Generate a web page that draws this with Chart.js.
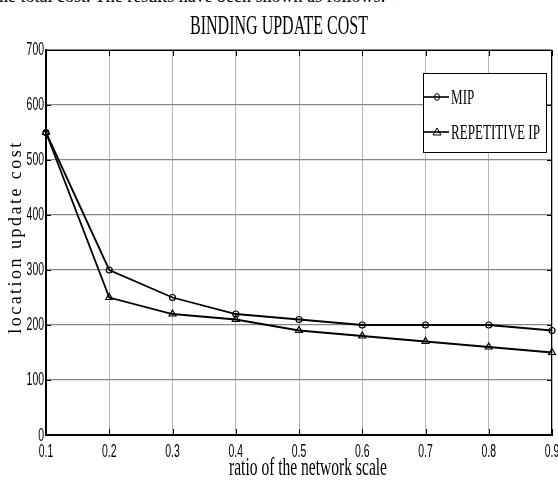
<!DOCTYPE html>
<html>
<head>
<meta charset="utf-8">
<script src="https://cdn.jsdelivr.net/npm/chart.js@4/dist/chart.umd.min.js"></script>
<style>
  html, body { margin: 0; padding: 0; background: #fff; overflow: hidden; }
  #wrap { position: relative; width: 558px; height: 480px; }
  #cutText {
    position: absolute; left: -6px; top: -14px; white-space: nowrap;
    font: 18px "Liberation Serif", serif; color: #000;
  }
  canvas { position: absolute; left: 0; top: 0; }
</style>
</head>
<body>
<div id="wrap">
  <div id="cutText">the total cost. The results have been shown as follows:</div>
  <canvas id="chart" width="558" height="480"></canvas>
</div>
<script>
const chartTitle = "BINDING UPDATE COST";
const xTitle = "ratio of the network scale";
const yTitle = "location update cost";
const xLabels = ["0.1", "0.2", "0.3", "0.4", "0.5", "0.6", "0.7", "0.8", "0.9"];
const mipCost = [550, 300, 250, 220, 210, 200, 200, 200, 190];
const repIpCost = [550, 250, 220, 210, 190, 180, 170, 160, 150];
const seriesNames = ["MIP", "REPETITIVE IP"];
const yMin = 0;
const yMax = 700;
const yStep = 100;

function drawSqueezed(ctx, text, x, y, font, scaleX, align) {
  ctx.save();
  ctx.font = font;
  ctx.translate(x, y);
  ctx.scale(scaleX, 1);
  ctx.textAlign = align;
  ctx.fillText(text, 0, 0);
  ctx.restore();
}

function fitScale(ctx, text, font, width) {
  ctx.font = font;
  return width / ctx.measureText(text).width;
}

function drawMarker(ctx, style, x, y) {
  ctx.beginPath();
  if (style === "circle") {
    ctx.ellipse(x, y, 2.6, 3.4, 0, 0, Math.PI * 2);
  } else {
    ctx.moveTo(x, y - 4);
    ctx.lineTo(x + 4, y + 3);
    ctx.lineTo(x - 4, y + 3);
    ctx.closePath();
  }
  ctx.stroke();
}

const decorPlugin = {
  id: "decor",
  beforeDatasetsDraw(chart) {
    const { ctx, chartArea: a, scales } = chart;
    ctx.save();
    ctx.strokeStyle = "#000";
    ctx.lineWidth = 1;
    ctx.beginPath();
    ctx.moveTo(a.left, a.top + 0.5);
    ctx.lineTo(a.right, a.top + 0.5);
    ctx.moveTo(a.right - 0.5, a.top);
    ctx.lineTo(a.right - 0.5, a.bottom);
    ctx.stroke();
    // inner tick marks
    ctx.beginPath();
    scales.y.ticks.forEach(t => {
      const py = Math.round(scales.y.getPixelForValue(t.value)) + 0.5;
      ctx.moveTo(a.left, py); ctx.lineTo(a.left + 5, py);
      ctx.moveTo(a.right, py); ctx.lineTo(a.right - 5, py);
    });
    xLabels.forEach((l, i) => {
      const px = Math.round(scales.x.getPixelForValue(i)) + 0.5;
      ctx.moveTo(px, a.bottom); ctx.lineTo(px, a.bottom - 6);
      ctx.moveTo(px, a.top); ctx.lineTo(px, a.top + 6);
    });
    ctx.stroke();
    ctx.restore();
  },
  afterDraw(chart) {
    const { ctx, chartArea: a, scales } = chart;
    ctx.save();
    ctx.fillStyle = "#000";
    ctx.textBaseline = "middle";
    const tickFont = '18px "Liberation Sans", Arial, sans-serif';
    scales.y.ticks.forEach(t => {
      const py = scales.y.getPixelForValue(t.value);
      drawSqueezed(ctx, String(t.value), a.left - 2, py + (t.value === 0 ? 1 : 0), tickFont, 0.58, "right");
    });
    xLabels.forEach((l, i) => {
      const px = scales.x.getPixelForValue(i);
      drawSqueezed(ctx, l, px, a.bottom + 17, tickFont, 0.58, "center");
    });

    ctx.textBaseline = "alphabetic";
    const titleFont = '28px "Liberation Serif", "Times New Roman", serif';
    drawSqueezed(ctx, chartTitle, 279, 34, titleFont, fitScale(ctx, chartTitle, titleFont, 178), "center");
    const xFont = '25px "Liberation Serif", "Times New Roman", serif';
    drawSqueezed(ctx, xTitle, 308, 475, xFont, fitScale(ctx, xTitle, xFont, 158), "center");

    // y title, letter-spaced
    const yFont = '18px "Liberation Serif", "Times New Roman", serif';
    ctx.save();
    ctx.font = yFont;
    const plain = ctx.measureText(yTitle).width;
    ctx.letterSpacing = ((191 - plain) / (yTitle.length - 1)).toFixed(2) + "px";
    ctx.translate(21, 237);
    ctx.rotate(-Math.PI / 2);
    ctx.textAlign = "center";
    ctx.fillText(yTitle, 0, 0);
    ctx.restore();

    // legend box
    const lx = 423, ly = 73, lw = 123, lh = 79;
    ctx.fillStyle = "#fff";
    ctx.fillRect(lx, ly, lw, lh);
    ctx.strokeStyle = "#000";
    ctx.lineWidth = 1;
    ctx.strokeRect(lx + 0.5, ly + 0.5, lw, lh);
    const legFont = '22px "Liberation Serif", "Times New Roman", serif';
    const legScale = fitScale(ctx, seriesNames[1], legFont, 89);
    chart.data.datasets.forEach((ds, i) => {
      const rowY = i === 0 ? 97 : 132;
      ctx.strokeStyle = "#000";
      ctx.lineWidth = 1.6;
      ctx.beginPath();
      ctx.moveTo(lx + 1, rowY); ctx.lineTo(lx + 26, rowY);
      ctx.stroke();
      ctx.lineWidth = 1;
      drawMarker(ctx, ds.pointStyle, lx + 14, rowY);
      ctx.fillStyle = "#000";
      ctx.textBaseline = "middle";
      drawSqueezed(ctx, ds.label, lx + 28, rowY + 1, legFont, legScale, "left");
    });
    ctx.restore();
  }
};

new Chart(document.getElementById("chart"), {
  type: "line",
  data: {
    labels: xLabels,
    datasets: [
      {
        label: seriesNames[0],
        data: mipCost,
        borderColor: "#000",
        borderWidth: 1.8,
        pointStyle: "circle",
        pointRadius: 3,
        pointBorderWidth: 1.2,
        pointBorderColor: "#000",
        pointBackgroundColor: "rgba(0,0,0,0)",
        tension: 0,
        clip: false
      },
      {
        label: seriesNames[1],
        data: repIpCost,
        borderColor: "#000",
        borderWidth: 1.8,
        pointStyle: "triangle",
        pointRadius: 4,
        pointBorderWidth: 1.2,
        pointBorderColor: "#000",
        pointBackgroundColor: "rgba(0,0,0,0)",
        tension: 0,
        clip: false
      }
    ]
  },
  options: {
    responsive: false,
    animation: false,
    events: [],
    layout: { padding: { left: 46, top: 50, right: 6, bottom: 45 } },
    plugins: {
      legend: { display: false },
      title: { display: false },
      tooltip: { enabled: false }
    },
    scales: {
      x: {
        type: "category",
        offset: false,
        ticks: { display: false },
        grid: { color: "#b4b4b4", lineWidth: 1, drawTicks: false },
        border: { color: "#000", width: 2 },
        afterFit(scale) { scale.height = 0; }
      },
      y: {
        min: yMin,
        max: yMax,
        ticks: { display: false, stepSize: yStep },
        grid: { color: "#888", lineWidth: 1.2, drawTicks: false },
        border: { color: "#000", width: 2 },
        afterFit(scale) { scale.width = 0; }
      }
    }
  },
  plugins: [decorPlugin]
});
</script>
</body>
</html>
